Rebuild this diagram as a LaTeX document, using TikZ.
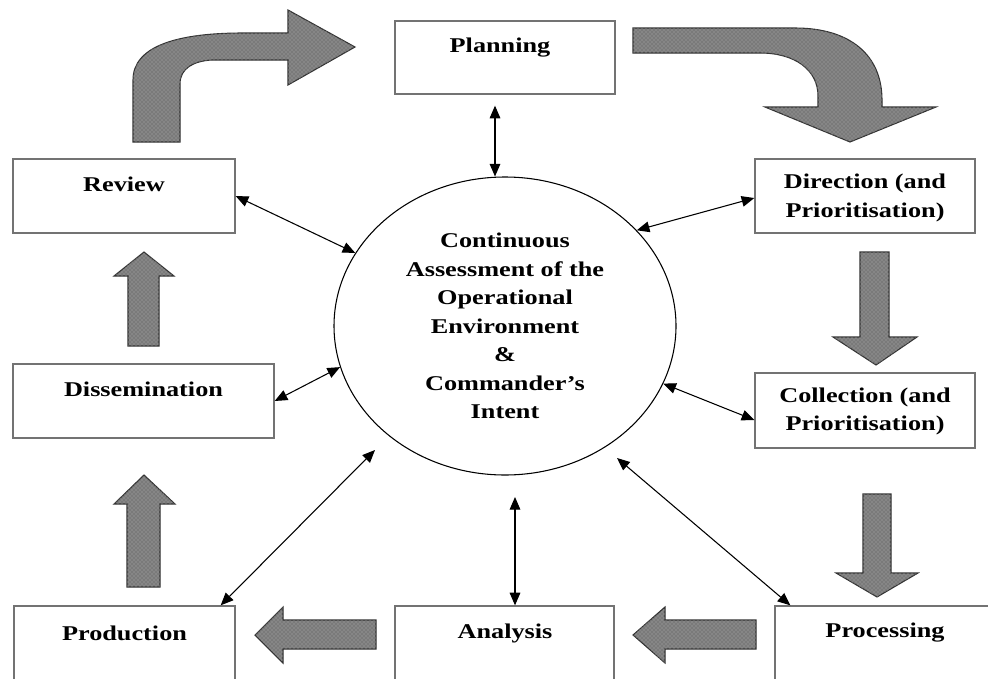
\documentclass[tikz,border=0pt]{standalone}
\usepackage{fontspec}
\setmainfont{Liberation Serif}[FakeStretch=1.25]
\usetikzlibrary{arrows.meta,patterns,shapes.geometric}
\begin{document}
\begin{tikzpicture}[x=0.75pt,y=-0.75pt,
  box/.style 2 args={draw=black!55,line width=1pt,rectangle,inner sep=0pt,
    minimum width=#1*0.75pt,minimum height=#2*0.75pt},
  lbl/.style={font=\fontsize{15.75}{21.4}\selectfont\bfseries,align=center,inner sep=0pt},
  link/.style={line width=0.8pt,{Triangle[length=9.5pt,width=8pt]}-{Triangle[length=9.5pt,width=8pt]}},
  blk/.style={fill=black!52,draw=black!80,line width=0.8pt,line join=miter,
    postaction={pattern=crosshatch dots,pattern color=white!70!black}}]
\useasboundingbox (0,0) rectangle (988,678);
\clip (0,0) rectangle (988,678);
\fill[white] (0,0) rectangle (988,678);

% boxes
\node[box={220}{73}] (plan) at (505,57.5) {};
\node[box={222}{74}] (rev)  at (124,196) {};
\node[box={220}{74}] (dir)  at (865,196) {};
\node[box={261}{74}] (dis)  at (143.5,401) {};
\node[box={220}{75}] (col)  at (865,410.5) {};
\node[box={221}{84}] (prod) at (124.5,648) {};
\node[box={219}{84}] (ana)  at (504.5,648) {};
\node[box={225}{84}] (proc) at (887.5,648) {};

% labels
\node[lbl] (planT) at (500,48) {Planning};
\node[lbl] (revT)  at (124,184) {Review};
\node[lbl] (dirT)  at (865,198) {Direction (and\\Prioritisation)};
\node[lbl] (disT)  at (143.5,389) {Dissemination};
\node[lbl] (colT)  at (865,411.5) {Collection (and\\Prioritisation)};
\node[lbl] (prodT) at (124.5,633) {Production};
\node[lbl] (anaT)  at (505,633) {Analysis};
\node[lbl] (procT) at (885,633) {Processing};

% central ellipse
\node[draw,ellipse,line width=0.8pt,minimum width=342*0.75pt,minimum height=298*0.75pt,
  inner sep=0pt,lbl] (circ) at (505,326)
  {Continuous\\Assessment of the\\Operational\\Environment\\\&\\Commander’s\\Intent};

% free ends near the ellipse
\coordinate (cProd) at (375,450);
\coordinate (cAna)  at (515,497);
\coordinate (cProc) at (617,458);

% connectors
\draw[link] ([shift={(-10,11)}]plan.south) -- ([shift={(-10,0)}]circ.north);
\draw[link] (rev.east) -- (circ.154);
\draw[link] (dis.east) -- (circ.194);
\draw[link] ([shift={(0,2)}]dir.west) -- (circ.36);
\draw[link] ([shift={(0,9.5)}]col.west) -- (circ.-20);
\draw[link] ([shift={(-15,0)}]prod.north east) -- (cProd);
\draw[link] ([shift={(10.5,0)}]ana.north) -- (cAna);
\draw[link] ([shift={(16,0)}]proc.north west) -- (cProc);

% block arrows
% top-left curved
\draw[blk] (133,142) -- (133,80) .. controls (133,45) and (180,33) .. (243,33)
  -- (288,33) -- (288,10) -- (355,47) -- (288,85) -- (288,60) -- (212,60)
  .. controls (194,61) and (180,68) .. (180,84) -- (180,142) -- cycle;
% top-right curved
\draw[blk] (633,28) -- (795,28) .. controls (850,28) and (882,55) .. (882,100)
  -- (882,107) -- (936,107) -- (850,142) -- (765,107) -- (818,107) -- (818,96)
  .. controls (818,70) and (795,53) .. (760,53) -- (633,53) -- cycle;
% up arrows
\draw[blk] (128,346) -- (128,276) -- (114,276) -- (144,252) -- (174,276) -- (159,276) -- (159,346) -- cycle;
\draw[blk] (127,587) -- (127,504) -- (114,504) -- (144,475) -- (175,504) -- (160,504) -- (160,587) -- cycle;
% down arrows
\draw[blk] (860,252) -- (860,337) -- (833,337) -- (876,365) -- (917,337) -- (889,337) -- (889,252) -- cycle;
\draw[blk] (863,494) -- (863,573) -- (836,573) -- (877,597) -- (918,573) -- (891,573) -- (891,494) -- cycle;
% left arrows
\draw[blk] (376,620) -- (283,620) -- (283,607) -- (255,635) -- (283,663) -- (283,649) -- (376,649) -- cycle;
\draw[blk] (756,620) -- (665,620) -- (665,607) -- (633,635) -- (665,663) -- (665,649) -- (756,649) -- cycle;
\end{tikzpicture}
\end{document}
